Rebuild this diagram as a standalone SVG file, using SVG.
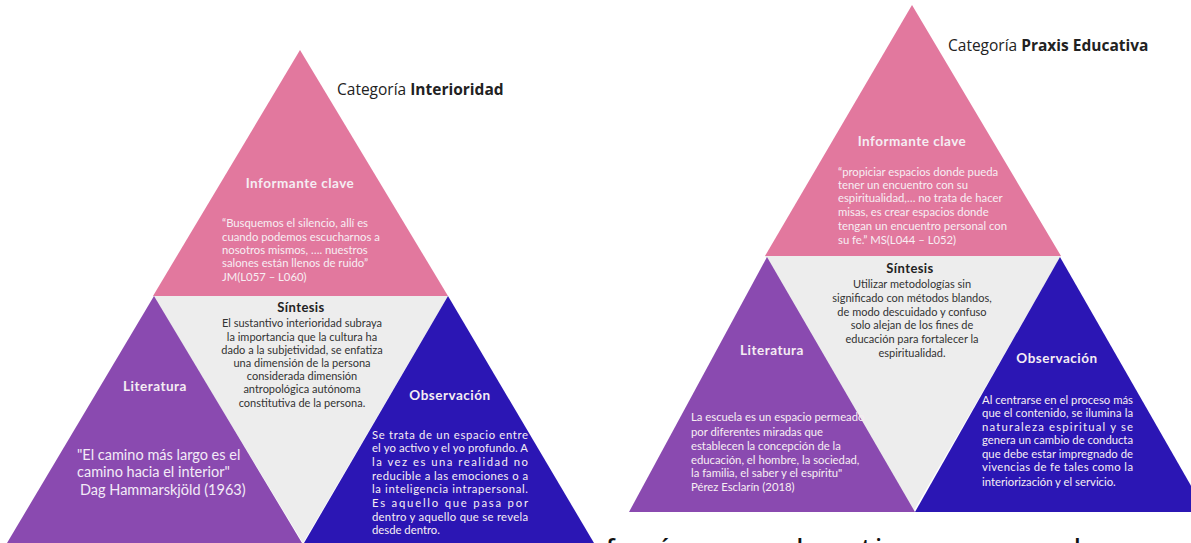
<svg xmlns="http://www.w3.org/2000/svg" width="1191" height="543" viewBox="0 0 1191 543">
<style>
.pink{fill:#E2789E}
.purple{fill:#8A4AB0}
.blue{fill:#2B16B4}
.gray{fill:#EDEDED}
.hd{font-family:Lato,"Open Sans",sans-serif;font-weight:700;font-size:13.5px;fill:#F5EDF3;text-anchor:middle;letter-spacing:0.5px}
.bd{font-family:Lato,"Liberation Sans",sans-serif;font-size:11.3px;fill:#F7EEF3}
.syn{font-family:Lato,"Liberation Sans",sans-serif;font-size:11px;fill:#333;text-anchor:middle}
.synh{font-family:Lato,"Open Sans",sans-serif;font-weight:700;font-size:13px;fill:#222;text-anchor:middle;letter-spacing:0.4px}
.lit{font-family:Lato,"Liberation Sans",sans-serif;font-size:14.5px;fill:#F3EAF7}
.cat{font-family:"Open Sans",Lato,sans-serif;font-size:15.5px;fill:#222}
.bot{font-family:"Open Sans","Liberation Sans",sans-serif;font-size:24px;font-weight:600;fill:#111}
</style>
<rect width="1191" height="543" fill="#FFFFFF"/>

<!-- Left diagram -->
<g id="left-sintesis">
<polygon class="gray" points="153,296 448,296 303,543"/>
<text class="synh" x="301" y="312">Síntesis</text>
<text class="syn" x="302" y="327">El sustantivo interioridad subraya</text>
<text class="syn" x="302" y="341">la importancia que la cultura ha</text>
<text class="syn" x="302" y="354">dado a la subjetividad, se enfatiza</text>
<text class="syn" x="302" y="367">una dimensión de la persona</text>
<text class="syn" x="302" y="380">considerada dimensión</text>
<text class="syn" x="302" y="393">antropológica autónoma</text>
<text class="syn" x="302" y="407">constitutiva de la persona.</text>
</g>
<g id="left-informante">
<polygon class="pink" points="300,50 448,296 153,296"/>
<text class="hd" x="300" y="188">Informante clave</text>
<text class="bd" x="222" y="227">“Busquemos el silencio, allí es</text>
<text class="bd" x="222" y="241">cuando podemos escucharnos a</text>
<text class="bd" x="222" y="254">nosotros mismos, …. nuestros</text>
<text class="bd" x="222" y="267">salones están llenos de ruido”</text>
<text class="bd" x="222" y="281">JM(L057 – L060)</text>
</g>
<g id="left-literatura">
<polygon class="purple" points="154,296 302,543 7,543"/>
<text class="hd" x="155" y="391">Literatura</text>
<text class="lit" x="77" y="460">"El camino más largo es el</text>
<text class="lit" x="77" y="477">camino hacia el interior"</text>
<text class="lit" x="80" y="495">Dag Hammarskjöld (1963)</text>
</g>
<g id="left-observacion">
<polygon class="blue" points="448,296 594,543 304,543"/>
<text class="hd" x="450" y="400">Observación</text>
<text class="bd" x="372" y="439" textLength="156" lengthAdjust="spacing">Se trata de un espacio entre</text>
<text class="bd" x="372" y="452" textLength="156" lengthAdjust="spacing">el yo activo y el yo profundo. A</text>
<text class="bd" x="372" y="466" textLength="156" lengthAdjust="spacing">la vez es una realidad no</text>
<text class="bd" x="372" y="480" textLength="156" lengthAdjust="spacing">reducible a las emociones o a</text>
<text class="bd" x="372" y="493" textLength="156" lengthAdjust="spacing">la inteligencia intrapersonal.</text>
<text class="bd" x="372" y="507" textLength="156" lengthAdjust="spacing">Es aquello que  pasa por</text>
<text class="bd" x="372" y="521" textLength="156" lengthAdjust="spacing">dentro y aquello que se revela</text>
<text class="bd" x="372" y="534">desde dentro.</text>
</g>
<g id="left-categoria">
<text class="cat" x="337" y="95">Categoría <tspan font-weight="700">Interioridad</tspan></text>
</g>

<!-- Right diagram -->
<g id="right-sintesis">
<polygon class="gray" points="765,256 1061,256 913,512"/>
<text class="synh" x="910" y="273">Síntesis</text>
<text class="syn" x="912" y="288">Utilizar metodologías sin</text>
<text class="syn" x="912" y="302">significado con métodos blandos,</text>
<text class="syn" x="912" y="316">de modo descuidado y confuso</text>
<text class="syn" x="912" y="329">solo alejan de los fines de</text>
<text class="syn" x="912" y="343">educación para fortalecer la</text>
<text class="syn" x="912" y="357">espiritualidad.</text>
</g>
<g id="right-informante">
<polygon class="pink" points="912,5 1061,256 765,256"/>
<text class="hd" x="912" y="146">Informante clave</text>
<text class="bd" x="838" y="176">“propiciar espacios donde  pueda</text>
<text class="bd" x="838" y="189">tener un encuentro con su</text>
<text class="bd" x="838" y="202">espiritualidad,… no trata de hacer</text>
<text class="bd" x="838" y="216">misas, es crear espacios donde</text>
<text class="bd" x="838" y="230">tengan un encuentro personal con</text>
<text class="bd" x="838" y="244">su fe.” MS(L044 – L052)</text>
</g>
<g id="right-literatura">
<polygon class="purple" points="767,257 915,512 629,512"/>
<text class="hd" x="772" y="355">Literatura</text>
<text class="bd" x="691" y="421">La escuela es un espacio permeado</text>
<text class="bd" x="691" y="436">por diferentes miradas que</text>
<text class="bd" x="691" y="450">establecen la concepción de la</text>
<text class="bd" x="691" y="464">educación, el hombre, la sociedad,</text>
<text class="bd" x="691" y="477">la familia, el saber y el espíritu"</text>
<text class="bd" x="691" y="491">Pérez Esclarín (2018)</text>
</g>
<g id="right-observacion">
<polygon class="blue" points="1060,257 1206,512 915,512"/>
<text class="hd" x="1057" y="363">Observación</text>
<text class="bd" x="982" y="404" textLength="151" lengthAdjust="spacing">Al centrarse en el proceso más</text>
<text class="bd" x="982" y="417" textLength="151" lengthAdjust="spacing">que el contenido, se ilumina la</text>
<text class="bd" x="982" y="431" textLength="151" lengthAdjust="spacing">naturaleza espiritual y se</text>
<text class="bd" x="982" y="444" textLength="151" lengthAdjust="spacing">genera un cambio de conducta</text>
<text class="bd" x="982" y="458" textLength="151" lengthAdjust="spacing">que debe estar impregnado de</text>
<text class="bd" x="982" y="471" textLength="151" lengthAdjust="spacing">vivencias de fe tales como la</text>
<text class="bd" x="982" y="486">interiorización y el servicio.</text>
</g>
<g id="right-categoria">
<text class="cat" x="948" y="51">Categoría <tspan font-weight="700">Praxis Educativa</tspan></text>
</g>

<g id="connectors"></g>

<text class="bot" x="606" y="556" textLength="585" lengthAdjust="spacing">fenómeno educativo, que es el campo</text>
</svg>
